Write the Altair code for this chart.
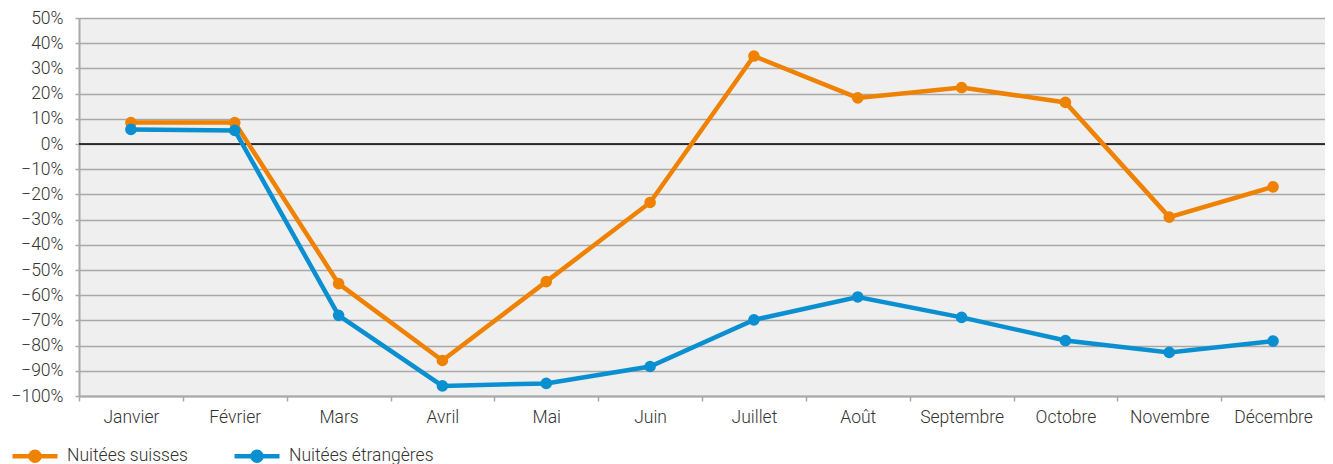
import altair as alt
import pandas as pd

months = ["Janvier", "Février", "Mars", "Avril", "Mai", "Juin", "Juillet",
          "Août", "Septembre", "Octobre", "Novembre", "Décembre"]
series = ["Nuitées suisses", "Nuitées étrangères"]
colors = ["#ef8200", "#0a8fd1"]
suisses = [8.5, 8.5, -55.4, -85.9, -54.6, -23.2, 34.9, 18.3, 22.4, 16.5, -29.0, -17.0]
etrangeres = [5.8, 5.4, -68.0, -96.0, -95.0, -88.3, -69.8, -60.7, -68.8, -78.0, -82.7, -78.2]
y_ticks = list(range(-100, 51, 10))

rows = []
for m, v in zip(months, suisses):
    rows.append({"Mois": m, "Série": series[0], "Valeur": v})
for m, v in zip(months, etrangeres):
    rows.append({"Mois": m, "Série": series[1], "Valeur": v})
df = pd.DataFrame(rows)

FONT = "Roboto"
LABEL_COLOR = "#333333"
GRID = "#a8a8a8"

legend_path = ("M-1,0L1,0M0.2,0A0.2,0.2,0,1,1,-0.2,0A0.2,0.2,0,1,1,0.2,0")

base = alt.Chart(df).encode(
    x=alt.X("Mois:N", sort=months, title=None,
            scale=alt.Scale(type="band", paddingInner=0, paddingOuter=0),
            axis=alt.Axis(labelAngle=0, tickBand="extent", domainColor=GRID,
                          domainWidth=2, tickColor=GRID, tickWidth=1.5, tickSize=5,
                          labelPadding=7, grid=False, labelOverlap=False)),
    y=alt.Y("Valeur:Q", title=None,
            scale=alt.Scale(domain=[-100, 50], nice=False, zero=False),
            axis=alt.Axis(values=y_ticks, tickCount=16,
                          labelExpr="format(datum.value, 'd') + '%'",
                          grid=True, gridColor=GRID, gridWidth=1.5,
                          domainColor=GRID, domainWidth=2, tickColor=GRID,
                          tickWidth=1.5, tickSize=4, labelPadding=12,
                          labelOverlap=False, labelSeparation=0,
                          labelBound=False, labelFlush=False)),
    color=alt.Color("Série:N", sort=series,
                    scale=alt.Scale(domain=series, range=colors),
                    legend=alt.Legend(title=None, orient="none", direction="horizontal",
                                      legendX=-69, legendY=413, symbolType=legend_path,
                                      symbolSize=2025, symbolStrokeWidth=4.5,
                                      labelOffset=7, columnPadding=37, padding=0,
                                      labelFont=FONT, labelFontSize=17.5,
                                      labelFontWeight=300, labelColor=LABEL_COLOR)),
)

lines = base.mark_line(strokeWidth=4.5)
points = base.mark_point(filled=True, size=135, opacity=1)

zero = alt.Chart(pd.DataFrame({"y": [0]})).mark_rule(
    color="black", strokeWidth=1.5).encode(y="y:Q")

chart = alt.layer(zero, lines, points).properties(
    width=1246, height=378,
    autosize=alt.AutoSizeParams(type="none"),
    padding={"left": 71, "top": 10, "right": 0, "bottom": 70},
).configure_view(
    fill="#efefef", stroke=None
).configure_axis(
    labelFont=FONT, labelFontSize=17.5, labelFontWeight=300, labelColor=LABEL_COLOR,
    labelOverlap=False
)

chart.save("out.html", embed_options={"renderer": "svg", "actions": False})
